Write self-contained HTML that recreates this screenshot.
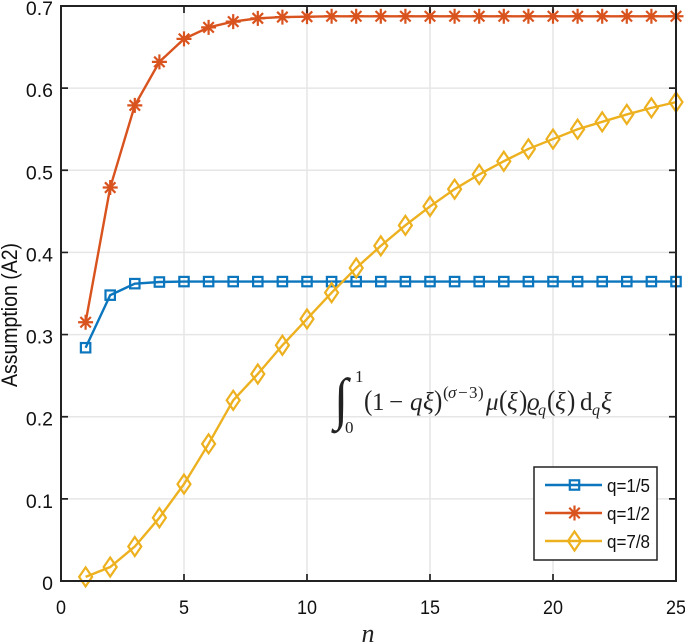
<!DOCTYPE html>
<html>
<head>
<meta charset="utf-8">
<title>Assumption (A2) chart</title>
<style>
html,body{margin:0;padding:0;background:#fff;}
body{width:685px;height:644px;overflow:hidden;}
svg{display:block;filter:blur(0.35px);}
text{font-family:"Liberation Sans",sans-serif;fill:#111;}
.m{font-family:"Liberation Serif",serif;fill:#222;}
.i{font-style:italic;}
</style>
</head>
<body>
<svg id="chart" xmlns="http://www.w3.org/2000/svg" width="685" height="644" viewBox="0 0 685 644">
<g id="grid"></g>
<g id="series"></g>
<g id="axes"></g>
<text transform="translate(17,315) rotate(-90) scale(1,1.12)" text-anchor="middle" font-size="19.5">Assumption (A2)</text>
<text class="m i" x="368" y="642" text-anchor="middle" font-size="26">n</text>
<g font-size="25">
<text class="m" font-size="52" transform="translate(334,418) scale(1,1.1)">∫</text>
<text class="m" x="355" y="382" font-size="17">1</text>
<text class="m" x="345" y="433" font-size="17">0</text>
<text class="m" font-size="25" transform="translate(364,410) scale(1,1.15)">(</text>
<text class="m" x="372" y="410" font-size="25">1</text>
<text class="m" x="389" y="410" font-size="25">−</text>
<text class="m i" x="410" y="410" font-size="25">q</text>
<text class="m i" x="423" y="410" font-size="25">ξ</text>
<text class="m" font-size="25" transform="translate(434,410) scale(1,1.15)">)</text>
<text class="m" x="443" y="398" font-size="17">(</text>
<text class="m i" x="448" y="398" font-size="17">σ</text>
<text class="m" x="458" y="398" font-size="17">−</text>
<text class="m" x="469" y="398" font-size="17">3</text>
<text class="m" x="478" y="398" font-size="17">)</text>
<text class="m i" x="486" y="410" font-size="25">μ</text>
<text class="m" font-size="25" transform="translate(499,410) scale(1,1.15)">(</text>
<text class="m i" x="507" y="410" font-size="25">ξ</text>
<text class="m" font-size="25" transform="translate(519,410) scale(1,1.15)">)</text>
<text class="m i" x="527" y="410" font-size="25">ϱ</text>
<text class="m i" x="538" y="415" font-size="16">q</text>
<text class="m" font-size="25" transform="translate(547,410) scale(1,1.15)">(</text>
<text class="m i" x="555" y="410" font-size="25">ξ</text>
<text class="m" font-size="25" transform="translate(567,410) scale(1,1.15)">)</text>
<text class="m" x="580" y="410" font-size="25">d</text>
<text class="m i" x="592" y="415" font-size="16">q</text>
<text class="m i" x="601" y="410" font-size="25">ξ</text>
</g>
<g id="legend"></g>
</svg>
<script>
var nValues = [1,2,3,4,5,6,7,8,9,10,11,12,13,14,15,16,17,18,19,20,21,22,23,24,25];
var q15Values = [0.284,0.348,0.362,0.364,0.3645,0.3645,0.3645,0.3645,0.3645,0.3645,0.3645,0.3645,0.3645,0.3645,0.3645,0.3645,0.3645,0.3645,0.3645,0.3645,0.3645,0.3645,0.3645,0.3645,0.3645];
var q12Values = [0.315,0.479,0.579,0.632,0.660,0.674,0.681,0.685,0.6865,0.687,0.6875,0.6875,0.6875,0.6875,0.6875,0.6875,0.6875,0.6875,0.6875,0.6875,0.6875,0.6875,0.6875,0.6875,0.6875];
var q78Values = [0.005,0.017,0.042,0.077,0.118,0.167,0.220,0.252,0.287,0.319,0.351,0.381,0.408,0.433,0.456,0.477,0.495,0.511,0.526,0.538,0.550,0.559,0.568,0.576,0.583];
var xTicks = [0,5,10,15,20,25];
var yTicks = [0,0.1,0.2,0.3,0.4,0.5,0.6,0.7];
var seriesNames = ['q=1/5','q=1/2','q=7/8'];
var seriesColors = ['#0b76bd','#d9531e','#edb120'];
var seriesMarkers = ['square','star','diamond'];
var seriesValues = [q15Values,q12Values,q78Values];

var NS = 'http://www.w3.org/2000/svg';
var L = 61, R = 676, T = 6, B = 581;
function xs(v){ return L + (v - 0) / 25 * (R - L); }
function ys(v){ return B - (v - 0) / 0.7 * (B - T); }
function mk(tag, parent, attrs){
  var e = document.createElementNS(NS, tag);
  for (var k in attrs) e.setAttribute(k, attrs[k]);
  parent.appendChild(e);
  return e;
}
function drawMarker(parent, type, x, y, color){
  var g = mk('g', parent, {fill:'none', stroke:color, 'stroke-width':'2.2'});
  
  
  if (type === 'square') {
    mk('rect', g, {x:x-4.7, y:y-4.7, width:9.4, height:9.4});
  } else if (type === 'diamond') {
    mk('path', g, {d:'M'+x+' '+(y-9.5)+'L'+(x+6.5)+' '+y+'L'+x+' '+(y+9.5)+'L'+(x-6.5)+' '+y+'Z'});
  } else {
    var r = 7.5;
    mk('path', g, {d:'M'+(x-r)+' '+y+'H'+(x+r)+'M'+x+' '+(y-r)+'V'+(y+r)+
      'M'+(x-r*0.7)+' '+(y-r*0.7)+'L'+(x+r*0.7)+' '+(y+r*0.7)+
      'M'+(x-r*0.7)+' '+(y+r*0.7)+'L'+(x+r*0.7)+' '+(y-r*0.7)});
  }
}

var gridG = document.getElementById('grid');
var axesG = document.getElementById('axes');
var seriesG = document.getElementById('series');
var legendG = document.getElementById('legend');

xTicks.forEach(function(t){
  if (t > 0 && t < 25) {
    var gl = mk('line', gridG, {x1:xs(t), x2:xs(t), y1:T, y2:B, stroke:'#e6e6e6', 'stroke-width':'1.5'});
    
    
  }
});
yTicks.forEach(function(t){
  if (t > 0 && t < 0.7) {
    var gl = mk('line', gridG, {x1:L, x2:R, y1:ys(t), y2:ys(t), stroke:'#e6e6e6', 'stroke-width':'1.5'});
    
    
  }
});

seriesValues.forEach(function(vals, i){
  var g = mk('g', seriesG, {});
  
  
  var pts = vals.map(function(v, j){ return xs(nValues[j]).toFixed(2) + ',' + ys(v).toFixed(2); }).join(' ');
  var pl = mk('polyline', g, {points:pts, fill:'none', stroke:seriesColors[i], 'stroke-width':'2.4'});
  
  
  vals.forEach(function(v, j){
    drawMarker(g, seriesMarkers[i], xs(nValues[j]), ys(v), seriesColors[i]);
  });
});

var frame = mk('path', axesG, {d:'M'+L+' '+T+'H'+R+'V'+B+'H'+L+'Z', fill:'none', stroke:'#222', 'stroke-width':'2'});



xTicks.forEach(function(t){
  var x = xs(t);
  var tk = mk('path', axesG, {d:'M'+x+' '+B+'v-7M'+x+' '+T+'v7', stroke:'#222', 'stroke-width':'1.7', fill:'none'});
  
  
  var lb = mk('text', axesG, {transform:'translate('+x+',614) scale(1,1.08)', 'text-anchor':'middle', 'font-size':'18'});
  
  
  lb.textContent = String(t);
});
yTicks.forEach(function(t){
  var y = ys(t);
  var tk = mk('path', axesG, {d:'M'+L+' '+y+'h7M'+R+' '+y+'h-7', stroke:'#222', 'stroke-width':'1.7', fill:'none'});
  
  
  var lb = mk('text', axesG, {x:53, y:y+9, 'text-anchor':'end', 'font-size':'19.5'});
  
  
  lb.textContent = String(t);
});

var box = mk('rect', legendG, {x:534, y:467, width:123, height:93, fill:'#fff', stroke:'#222', 'stroke-width':'1.5'});


seriesNames.forEach(function(name, i){
  var y = 485 + i * 28;
  var g = mk('g', legendG, {});
  
  
  mk('line', g, {x1:545, x2:602, y1:y, y2:y, stroke:seriesColors[i], 'stroke-width':'2.4'});
  drawMarker(g, seriesMarkers[i], 574.5, y, seriesColors[i]);
  var tx = mk('text', g, {transform:'translate(607,'+(y+7)+') scale(1,1.1)', 'font-size':'17'});
  
  
  tx.textContent = name;
});
</script>
</body>
</html>
